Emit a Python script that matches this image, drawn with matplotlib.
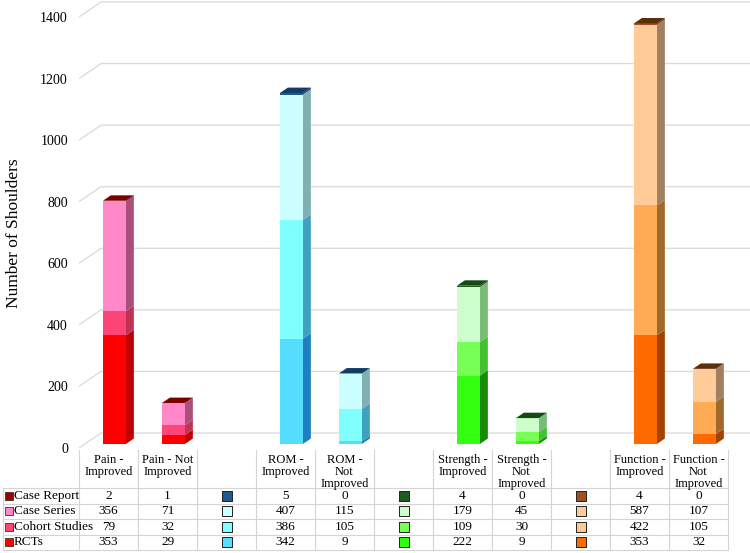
import numpy as np
import matplotlib
matplotlib.use('Agg')
import matplotlib.pyplot as plt
from matplotlib.patches import Polygon

plt.rcParams['font.family'] = ['Liberation Serif', 'DejaVu Serif']

# data, in table order
header_labels = ['Pain -\nImproved', 'Pain - Not\nImproved', 'ROM -\nImproved', 'ROM -\nNot\nImproved',
                 'Strength -\nImproved', 'Strength -\nNot\nImproved', 'Function -\nImproved', 'Function -\nNot\nImproved']
row_labels = ['Case Report', 'Case Series', 'Cohort Studies', 'RCTs']
case_report = [2, 1, 5, 0, 4, 0, 4, 0]
case_series = [356, 71, 407, 115, 179, 45, 587, 107]
cohort_studies = [79, 32, 386, 105, 109, 30, 422, 105]
rcts = [353, 29, 342, 9, 222, 9, 353, 32]

# colours per outcome group: RCTs, Cohort, Case Series, Case Report
group_colors = [
    ['#ff0000', '#ff4477', '#ff88c8', '#a00000'],
    ['#55ddff', '#80ffff', '#ccffff', '#1f5a8a'],
    ['#33ff11', '#77ff55', '#ccffcc', '#1e5b1e'],
    ['#ff6a00', '#ffaa55', '#ffcc99', '#a0501f'],
]
side_colors = [
    ['#c00000', '#c03355', '#a8507a', '#700000'],
    ['#1f7fc0', '#3fa0c0', '#80b0b0', '#0f3d66'],
    ['#1a8a0a', '#44c033', '#77bb77', '#154a15'],
    ['#a04400', '#a06a2a', '#a08060', '#5c2e0a'],
]
top_colors = ['#7a0000', '#0f3d66', '#154a15', '#5c2e0a']
swatch_colors = [
    ['#ff0000', '#ff4477', '#ff88c8', '#a00000'],
    ['#55ddff', '#80ffff', '#ccffff', '#1f5a8a'],
    ['#33ff11', '#77ff55', '#ccffcc', '#1e5b1e'],
    ['#ff6a00', '#ffc993', '#ffcc99', '#a0501f'],
]

positions = [0, 1, 3, 4, 6, 7, 9, 10]
legend_cols = [2, 5, 8]

fig = plt.figure(figsize=(7.5, 5.53), dpi=100)
W, H = 750, 553
col_px = 59
ax_left = 79
floor_px = 448
px_per_unit = 431 / 1400
xmax = -0.5 + (W - ax_left) / col_px
ax = fig.add_axes([ax_left / W, (H - floor_px) / H, (W - ax_left) / W, floor_px / H])
ax.set_xlim(-0.5, xmax)
ax.set_ylim(0, floor_px / px_per_unit)
for s in ax.spines.values():
    s.set_visible(False)
ax.set_xticks([])

# 3d depth of the wall, in data units
DX = 22 / col_px
DY = 15 / px_per_unit
f_front = 0.27
d_bar = 0.36
bar_w = 23 / col_px

yticks = list(range(0, 1401, 200))
ax.set_yticks(yticks)
ax.set_yticklabels([str(v) for v in yticks], fontsize=10)
ax.tick_params(axis='y', length=0, pad=8)
for v in yticks:
    ax.plot([-0.5, -0.5 + DX, xmax], [v, v + DY, v + DY], color='#d9d9d9', lw=0.9, zorder=0)
ax.set_ylabel('Number of Shoulders', fontsize=12.5)
ax.yaxis.set_label_coords(-0.085, 0.48)

# stacked 3d bars
stack = [rcts, cohort_studies, case_series, case_report]
for i, p in enumerate(positions):
    g = i // 2
    x0 = p + f_front * DX - bar_w / 2
    x1 = x0 + bar_w
    ox, oy = d_bar * DX, d_bar * DY
    base = f_front * DY
    bottom = 0
    for k, series in enumerate(stack):
        v = series[i]
        b = base + bottom
        t = b + v
        side = Polygon([(x1, b), (x1 + ox, b + oy), (x1 + ox, t + oy), (x1, t)], closed=True,
                       facecolor=side_colors[g][k], edgecolor='none', zorder=2)
        ax.add_patch(side)
        ax.bar(x0, v, width=bar_w, bottom=b, align='edge', color=group_colors[g][k],
               edgecolor='none', zorder=3)
        bottom += v
    t = base + bottom
    top = Polygon([(x0, t), (x1, t), (x1 + ox, t + oy), (x0 + ox, t + oy)], closed=True,
                  facecolor=top_colors[g], edgecolor='none', zorder=4)
    ax.add_patch(top)

# data table below the chart
tab = fig.add_axes([0, 0, 1, (H - floor_px) / H])
tab.set_xlim(-0.5 - ax_left / col_px, xmax)
tab.set_ylim(H - floor_px, 0)
tab.axis('off')
header_h = 40
row_h = 15.5
left_edge = -0.5 - 76 / col_px
line_c = '#d4d4d4'
table_bottom = header_h + 4 * row_h
for k in range(12):
    tab.plot([k - 0.5, k - 0.5], [2, table_bottom], color=line_c, lw=0.8)
tab.plot([left_edge, left_edge], [header_h, table_bottom], color=line_c, lw=0.8)
for r in range(5):
    yy = header_h + r * row_h
    tab.plot([left_edge, 10.5], [yy, yy], color=line_c, lw=0.8)

for i, p in enumerate(positions):
    tab.text(p, 6, header_labels[i], ha='center', va='top', fontsize=9, linespacing=1.02)

row_values = [case_report, case_series, cohort_studies, rcts]
for r, name in enumerate(row_labels):
    yc = header_h + (r + 0.5) * row_h
    tab.scatter([left_edge + 6 / col_px], [yc], marker='s', s=30, color=swatch_colors[0][3 - r],
                edgecolors='#333333', linewidths=0.6)
    tab.text(left_edge + 11 / col_px, yc, name, ha='left', va='center', fontsize=9.5)
    for i, p in enumerate(positions):
        tab.text(p, yc, str(row_values[r][i]), ha='center', va='center', fontsize=9.5)
    for j, c in enumerate(legend_cols):
        tab.scatter([c], [yc], marker='s', s=42, color=swatch_colors[j + 1][3 - r],
                    edgecolors='#222222', linewidths=0.7)

fig.savefig('out.png', dpi=100)
